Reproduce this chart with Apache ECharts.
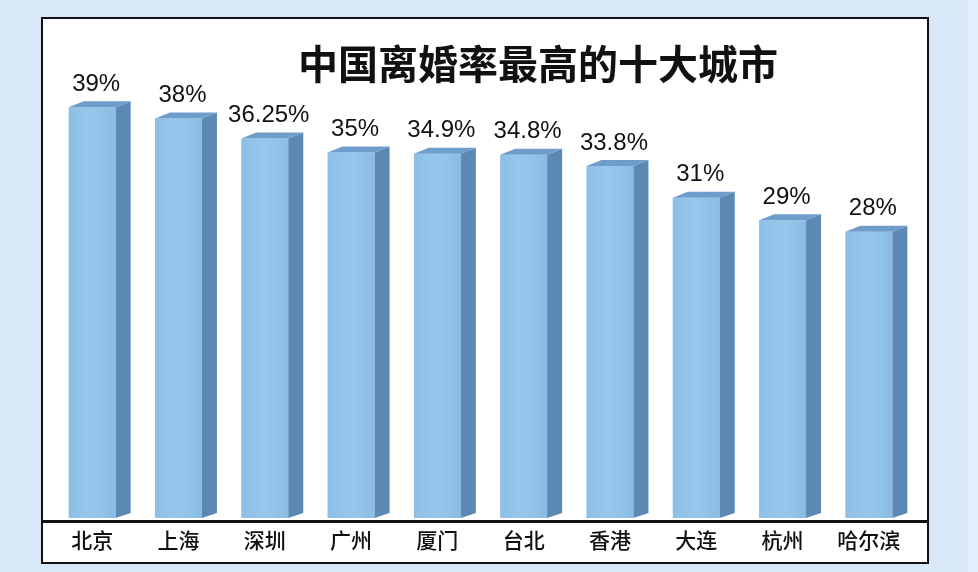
<!DOCTYPE html>
<html>
<head>
<meta charset="utf-8">
<script src="https://cdn.jsdelivr.net/npm/echarts@6/dist/echarts.min.js"></script>
<style>html,body{margin:0;padding:0;background:#d8e8f6;}#c{width:978px;height:572px;}</style>
</head>
<body>
<div id="c"></div>
<script>
var titleText = '中国离婚率最高的十大城市';
var cities = ['北京','上海','深圳','广州','厦门','台北','香港','大连','杭州','哈尔滨'];
var rates = [39, 38, 36.25, 35, 34.9, 34.8, 33.8, 31, 29, 28];
var rateLabels = ['39%','38%','36.25%','35%','34.9%','34.8%','33.8%','31%','29%','28%'];

var Y_MIN = 2.4, Y_MAX = 40;
var chart = echarts.init(document.getElementById('c'), null, {renderer:'canvas'});

function renderBar(params, api) {
  var i = api.value(0), v = api.value(1);
  var top = api.coord([i, v]);
  var base = api.coord([i, Y_MIN]);
  var cx = top[0], ty = top[1], by = base[1] - 3;
  var hw = 23.5, dx = 15, dy = 6;
  var front = {
    type: 'rect',
    shape: {x: cx - hw, y: ty, width: hw * 2, height: by - ty},
    style: {fill: new echarts.graphic.LinearGradient(0,0,1,0,[{offset:0,color:'#8dbfe6'},{offset:0.5,color:'#97c7ec'},{offset:1,color:'#8abce3'}])}
  };
  var side = {
    type: 'polygon',
    shape: {points: [[cx + hw, ty], [cx + hw + dx, ty - dy], [cx + hw + dx, by - dy + 1], [cx + hw, by]]},
    style: {fill: '#5b89b4'}
  };
  var topFace = {
    type: 'polygon',
    shape: {points: [[cx - hw, ty], [cx - hw + dx, ty - dy], [cx + hw + dx, ty - dy], [cx + hw, ty]]},
    style: {fill: '#6f9dcb'}
  };
  var label = {
    type: 'text',
    style: {
      x: cx + 4, y: ty - dy - 5,
      text: rateLabels[i],
      textAlign: 'center', textVerticalAlign: 'bottom',
      font: '24px "Liberation Sans", Arial, sans-serif',
      fill: '#111'
    }
  };
  return {type: 'group', children: [front, side, topFace, label]};
}

chart.setOption({
  backgroundColor: '#d8e8f6',
  animation: false,
  graphic: [
    {type: 'rect', z: 0, shape: {x: 968, y: 0, width: 10, height: 572},
     style: {fill: '#e2eef9'}},
    {type: 'rect', z: 0, shape: {x: 42, y: 18, width: 886, height: 545},
     style: {fill: '#ffffff', stroke: '#111', lineWidth: 2}},
    {type: 'line', z: 10, shape: {x1: 42, y1: 521.5, x2: 928, y2: 521.5},
     style: {stroke: '#111', lineWidth: 3}},
    {type: 'text', z: 5, left: 298, top: 44,
     style: {text: titleText, font: 'bold 40px "Noto Sans CJK SC", sans-serif', fill: '#111'}}
  ],
  grid: {left: 49, right: 66, top: 96, bottom: 51},
  xAxis: {
    type: 'category', data: cities,
    axisLine: {show: false},
    axisTick: {show: false},
    axisLabel: {color: '#111', fontSize: 21, margin: 9, fontWeight: 500,
      fontFamily: '"Noto Sans CJK SC", sans-serif'}
  },
  yAxis: {type: 'value', min: Y_MIN, max: Y_MAX, show: false, splitLine: {show: false}},
  series: [{
    type: 'custom',
    z: 3,
    renderItem: renderBar,
    data: rates.map(function (r, i) { return [i, r]; })
  }]
});
</script>
</body>
</html>
